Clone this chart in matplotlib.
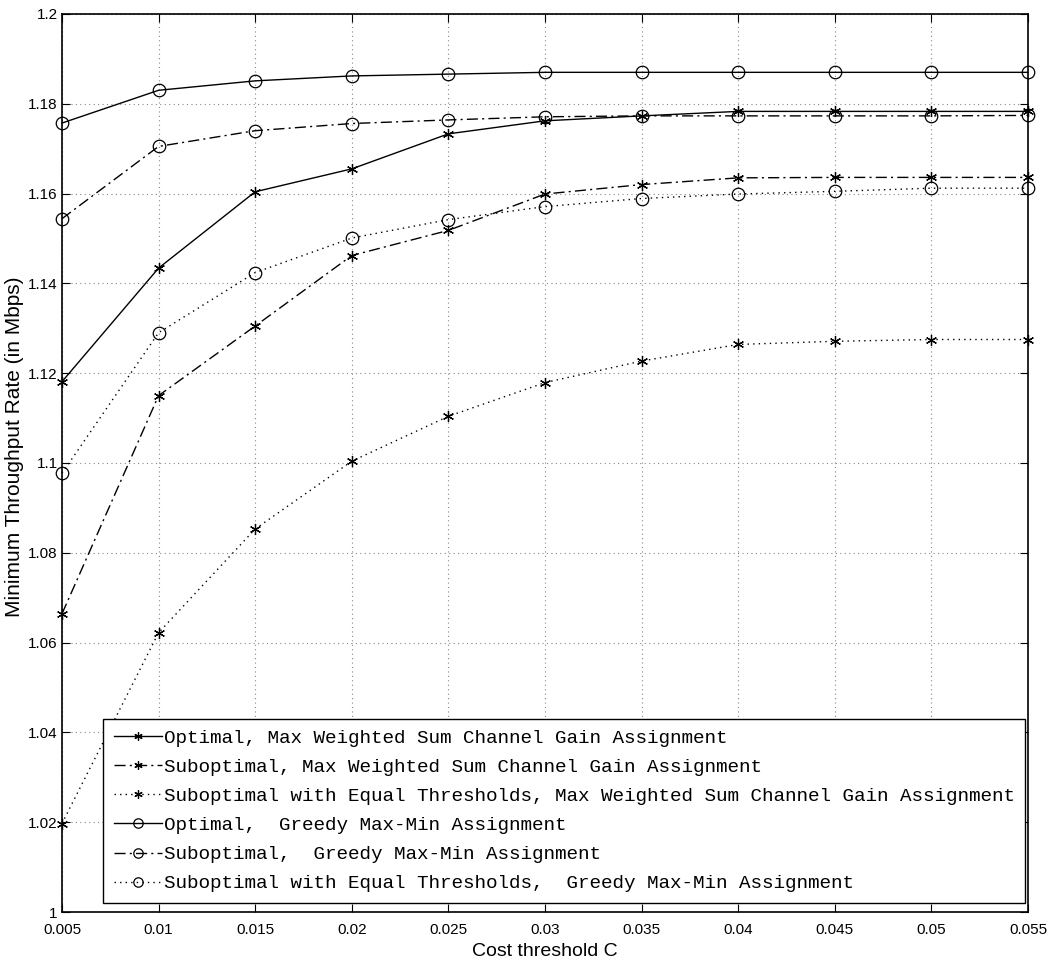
import numpy as np
import matplotlib
matplotlib.use("Agg")
import matplotlib.pyplot as plt

# --- DATA ---
cost = [0.005, 0.01, 0.015, 0.02, 0.025, 0.03, 0.035, 0.04, 0.045, 0.05, 0.055]

opt_mws = [1.1181, 1.1434, 1.1604, 1.1655, 1.1733, 1.1762, 1.1773, 1.1783, 1.1783, 1.1783, 1.1783]
sub_mws = [1.0664, 1.1150, 1.1305, 1.1462, 1.1518, 1.1599, 1.1620, 1.1635, 1.1636, 1.1636, 1.1636]
eq_mws = [1.0197, 1.0622, 1.0853, 1.1004, 1.1104, 1.1179, 1.1227, 1.1264, 1.1271, 1.1275, 1.1275]
opt_greedy = [1.1757, 1.1830, 1.1851, 1.1862, 1.1866, 1.1870, 1.1870, 1.1870, 1.1870, 1.1870, 1.1870]
sub_greedy = [1.1544, 1.1705, 1.1740, 1.1756, 1.1764, 1.1771, 1.1773, 1.1773, 1.1773, 1.1773, 1.1774]
eq_greedy = [1.0977, 1.1290, 1.1424, 1.1501, 1.1542, 1.1571, 1.1589, 1.1599, 1.1605, 1.1612, 1.1612]

labels = [
    "Optimal, Max Weighted Sum Channel Gain Assignment",
    "Suboptimal, Max Weighted Sum Channel Gain Assignment",
    "Suboptimal with Equal Thresholds, Max Weighted Sum Channel Gain Assignment",
    "Optimal,  Greedy Max-Min Assignment",
    "Suboptimal,  Greedy Max-Min Assignment",
    "Suboptimal with Equal Thresholds,  Greedy Max-Min Assignment",
]

yticks = [1.0, 1.02, 1.04, 1.06, 1.08, 1.1, 1.12, 1.14, 1.16, 1.18, 1.2]
ytick_labels = ["1", "1.02", "1.04", "1.06", "1.08", "1.1", "1.12", "1.14", "1.16", "1.18", "1.2"]
xtick_labels = ["0.005", "0.01", "0.015", "0.02", "0.025", "0.03", "0.035", "0.04", "0.045", "0.05", "0.055"]

# --- STYLE ---
sans = ["Liberation Sans", "DejaVu Sans"]
dashdot = (0, (8, 3, 1.5, 3))
dotted = (0, (1, 3))
star = (6, 2, 0)

fig = plt.figure(figsize=(10.52, 9.69), dpi=100)
ax = fig.add_axes([0.0589, 0.0588, 0.9183, 0.9268])

series = [
    (opt_mws, "-", star),
    (sub_mws, dashdot, star),
    (eq_mws, dotted, star),
    (opt_greedy, "-", "o"),
    (sub_greedy, dashdot, "o"),
    (eq_greedy, dotted, "o"),
]

for (vals, ls, mk), lab in zip(series, labels):
    msize = 9 if mk == "o" else 8
    ax.plot(cost, vals, color="black", linestyle=ls, linewidth=1.0,
            marker=mk, markersize=msize, markerfacecolor="none",
            markeredgecolor="black", markeredgewidth=0.9, label=lab,
            clip_on=False, zorder=3)

ax.set_xlim(0.005, 0.055)
ax.set_ylim(1.0, 1.2)
ax.set_xticks(cost)
ax.set_xticklabels(xtick_labels, family=sans, fontsize=11)
ax.set_yticks(yticks)
ax.set_yticklabels(ytick_labels, family=sans, fontsize=11)
ax.tick_params(direction="in", length=6, width=0.8, top=True, right=True)
ax.tick_params(axis="x", pad=8)
ax.tick_params(axis="y", pad=3)

ax.grid(True, color="#888888", linestyle=dotted, linewidth=0.8)
for sp in ax.spines.values():
    sp.set_linewidth(1.2)
    sp.set_color("black")

ax.set_xlabel("Cost threshold C", family=sans, fontsize=14, labelpad=4)
ax.set_ylabel("Minimum Throughput Rate (in Mbps)", family=sans, fontsize=15, va="center")
ax.yaxis.set_label_coords(-0.049, 0.518)

leg = ax.legend(loc="lower left", bbox_to_anchor=(0.0424, 0.0100, 0.9545, 0.2),
                mode="expand", borderaxespad=0, fancybox=False, framealpha=1,
                edgecolor="black", prop={"family": "Liberation Mono", "size": 13.9},
                handlelength=2.5, handletextpad=0.1, labelspacing=0.6,
                borderpad=0.55, markerscale=0.75)
leg.get_frame().set_linewidth(1.0)
leg.set_zorder(5)

fig.savefig("out.png", dpi=100, facecolor="white")
